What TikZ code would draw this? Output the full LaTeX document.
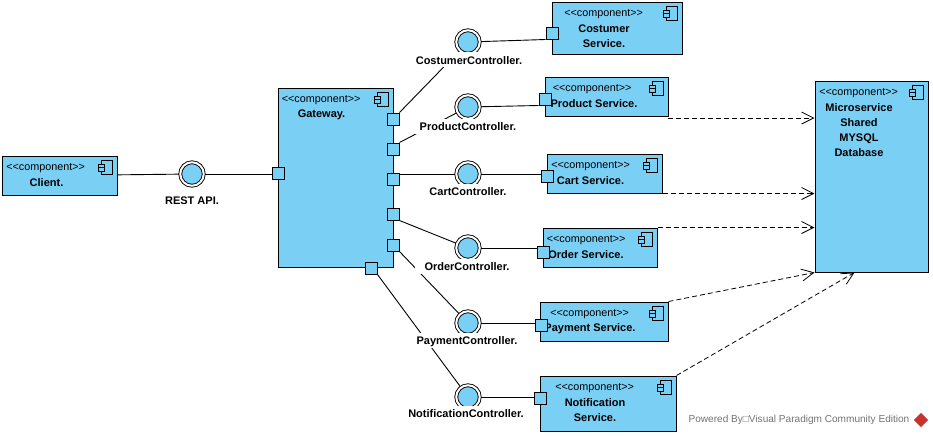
\documentclass[tikz,border=0pt]{standalone}
\usepackage{fontspec}
\setmainfont{Liberation Sans}
\usetikzlibrary{arrows.meta,shapes.geometric}
\definecolor{compblue}{HTML}{7ACFF5}
\definecolor{vpred}{HTML}{C8322C}
\def\px{0.75pt}
\newcommand{\compstereo}{<\kern0pt<component>\kern0pt>}
\tikzset{
  compbox/.style={draw=black,fill=compblue,line width=1*\px},
  stereo/.style={anchor=west,font=\fontsize{8.1pt}{10pt}\selectfont},
  compname/.style={align=center,font=\fontsize{8.25pt}{11.25pt}\selectfont\bfseries},
  port/.style={draw=black,fill=compblue,line width=1*\px,minimum size=12*\px},
  iface/.style={circle,draw=black,fill=compblue,line width=0.9*\px,double=white,double distance=2*\px,minimum size=23.5*\px},
  ifacelabel/.style={fill=white,inner xsep=10*\px,minimum height=15*\px,text height=7.4pt,text depth=0pt,font=\fontsize{8.25pt}{10pt}\selectfont\bfseries},
  conn/.style={black,line width=0.9*\px},
  depend/.style={black,line width=0.8*\px,dash pattern=on 3.75pt off 2.25pt,-{Straight Barb[length=9pt,width=9pt]}},
  compicon/.pic={
    \draw [fill=compblue,line width=1*\px] (-16,5) rectangle (-5,19);
    \draw [fill=compblue,line width=1*\px] (-19,8.5) rectangle (-13,12);
    \draw [fill=compblue,line width=1*\px] (-19,12) rectangle (-13,16);
  }
}
\begin{document}
\begin{tikzpicture}[x=0.75pt,y=-0.75pt]
\tikzstyle{every node}+=[inner sep=0pt]
\useasboundingbox (0,0) rectangle (933,436);
\draw (59.5,175.5) node [compbox,minimum width=115*\px,minimum height=39*\px] (client) {};
\draw (335.5,177.5) node [compbox,minimum width=115*\px,minimum height=179*\px] (gateway) {};
\draw (617,28) node [compbox,minimum width=130*\px,minimum height=52*\px] (costumerSvc) {};
\draw (606.5,96.5) node [compbox,minimum width=123*\px,minimum height=39*\px] (productSvc) {};
\draw (604.5,173.5) node [compbox,minimum width=115*\px,minimum height=39*\px] (cartSvc) {};
\draw (600,247.5) node [compbox,minimum width=114*\px,minimum height=39*\px] (orderSvc) {};
\draw (604,321.5) node [compbox,minimum width=128*\px,minimum height=39*\px] (paymentSvc) {};
\draw (608,403.5) node [compbox,minimum width=136*\px,minimum height=55*\px] (notifSvc) {};
\draw (871.5,176.5) node [compbox,minimum width=113*\px,minimum height=191*\px] (database) {};
\pic at (client.north east) {compicon};
\pic at (gateway.north east) {compicon};
\pic at (costumerSvc.north east) {compicon};
\pic at (productSvc.north east) {compicon};
\pic at (cartSvc.north east) {compicon};
\pic at (orderSvc.north east) {compicon};
\pic at (paymentSvc.north east) {compicon};
\pic at (notifSvc.north east) {compicon};
\pic at (database.north east) {compicon};
\draw (6,168) node [stereo] (clientStereo) {\compstereo};
\draw (46.5,183) node [compname] (clientName) {Client.};
\draw (281.5,100) node [stereo] (gatewayStereo) {\compstereo};
\draw (321.5,115) node [compname] (gatewayName) {Gateway.};
\draw (564,14) node [stereo] (costumerStereo) {\compstereo};
\draw (604,36.5) node [compname] (costumerName) {Costumer\\Service.};
\draw (552.5,89) node [stereo] (productStereo) {\compstereo};
\draw (594,104) node [compname] (productName) {Product Service.};
\draw (551,166) node [stereo] (cartStereo) {\compstereo};
\draw (590.5,181) node [compname] (cartName) {Cart Service.};
\draw (546.5,240) node [stereo] (orderStereo) {\compstereo};
\draw (586,255) node [compname] (orderName) {Order Service.};
\draw (550,314) node [stereo] (paymentStereo) {\compstereo};
\draw (590,329) node [compname] (paymentName) {Payment Service.};
\draw (555,388) node [stereo] (notifStereo) {\compstereo};
\draw (595,410.5) node [compname] (notifName) {Notification\\Service.};
\draw (819,93) node [stereo] (databaseStereo) {\compstereo};
\draw (859,130.5) node [compname] (databaseName) {Microservice\\Shared\\MYSQL\\Database};
\draw (278,173) node [port] (gatewayIn) {};
\draw (393,119) node [port] (gatewayCostumer) {};
\draw (393,149) node [port] (gatewayProduct) {};
\draw (393,179) node [port] (gatewayCart) {};
\draw (393,214) node [port] (gatewayOrder) {};
\draw (393,245) node [port] (gatewayPayment) {};
\draw (371,268) node [port] (gatewayNotif) {};
\draw (552,33) node [port] (costumerPort) {};
\draw (545,99) node [port] (productPort) {};
\draw (547,176) node [port] (cartPort) {};
\draw (543,252) node [port] (orderPort) {};
\draw (541,325) node [port] (paymentPort) {};
\draw (540,398) node [port] (notifPort) {};
\coordinate (restMid) at (192,174);
\coordinate (costumerMid) at (468,42);
\coordinate (productMid) at (468,107);
\coordinate (cartMid) at (468,174);
\coordinate (orderMid) at (468,248);
\coordinate (paymentMid) at (468,323);
\coordinate (notifMid) at (468,397);
\draw [conn] (client) -- (restMid);
\draw [conn] (restMid) -- (restMid -| gatewayIn.west);
\draw [conn] (gatewayCostumer.north east) -- (costumerMid);
\draw [conn] (costumerMid) -- (costumerPort.south west);
\draw [conn] (gatewayProduct.north east) -- (productMid);
\draw [conn] (productMid) -- (productPort.south west);
\draw [conn] (cartMid -| gatewayCart.east) -- (cartMid);
\draw [conn] (cartMid) -- (cartMid -| cartPort.west);
\draw [conn] (gatewayOrder.south east) -- (orderMid);
\draw [conn] (orderMid) -- (orderMid -| orderPort.west);
\draw [conn] (gatewayPayment.south east) -- (paymentMid);
\draw [conn] (paymentMid) -- (paymentMid -| paymentPort.west);
\draw [conn] (gatewayNotif.south east) -- (notifMid);
\draw [conn] (notifMid) -- (notifMid -| notifPort.west);
\draw (restMid) node [iface] (restIface) {};
\draw (costumerMid) node [iface] (costumerIface) {};
\draw (productMid) node [iface] (productIface) {};
\draw (cartMid) node [iface] (cartIface) {};
\draw (orderMid) node [iface] (orderIface) {};
\draw (paymentMid) node [iface] (paymentIface) {};
\draw (notifMid) node [iface] (notifIface) {};
\draw (192,200) node [ifacelabel] (restLabel) {REST API.};
\draw (469,59.5) node [ifacelabel] (costumerLabel) {CostumerController.};
\draw (468,126) node [ifacelabel] (productLabel) {ProductController.};
\draw (468,191) node [ifacelabel] (cartLabel) {CartController.};
\draw (467,266) node [ifacelabel] (orderLabel) {OrderController.};
\draw (467,340) node [ifacelabel] (paymentLabel) {PaymentController.};
\draw (466,413) node [ifacelabel] (notifLabel) {NotificationController.};
\coordinate (productDep) at (668,118);
\draw [depend] (productDep) -- (database.west |- productDep);
\draw [depend] (cartSvc.south east) -- (database.west |- cartSvc.south east);
\draw [depend] (orderSvc.north east) -- (database.west |- orderSvc.north east);
\draw [depend] (paymentSvc.north east) -- (database.south west);
\draw [depend] (notifSvc.north east) -- ([xshift=40*\px]database.south west);
\draw (799,420) node [font=\fontsize{7.55pt}{10pt}\selectfont,text=black!55] (poweredBy) {Powered By□Visual Paradigm Community Edition};
\draw (921,420) node [diamond,fill=vpred,minimum size=14.5*\px] (vpLogo) {};
\draw [white,line width=1*\px] ([yshift=-3*\px]vpLogo.west) -- ([yshift=-3*\px]vpLogo.south) -- ([yshift=-3*\px]vpLogo.east);
\end{tikzpicture}
\end{document}
